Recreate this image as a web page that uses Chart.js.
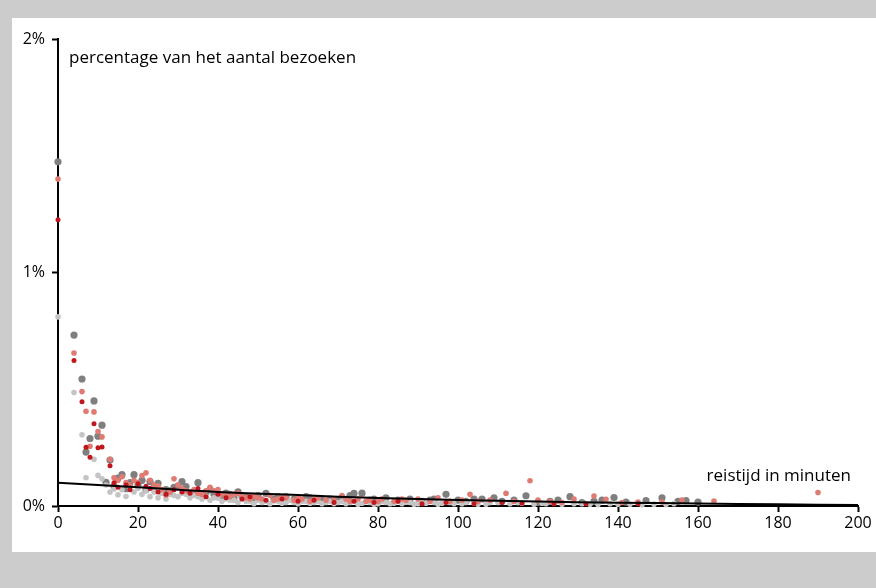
<!DOCTYPE html>
<html>
<head>
<meta charset="utf-8">
<script src="https://cdn.jsdelivr.net/npm/chart.js@4/dist/chart.umd.min.js"></script>
<style>
    html, body { margin: 0; padding: 0; background: #cccccc; }
    body { width: 876px; height: 588px; position: relative; overflow: hidden; }
    #panel { position: absolute; left: 12px; top: 18px; width: 864px; height: 534px; background: #ffffff; }
    #panel canvas { display: block; }
</style>
</head>
<body>
<div id="panel"><canvas id="chartReistijd" width="864" height="534"></canvas></div>
<script>
// Reistijd (minuten) tegen percentage van het aantal bezoeken

const xTicks = [0, 20, 40, 60, 80, 100, 120, 140, 160, 180, 200];
const yTicks = [0, 1, 2];

// Trendlijn
const trendX = [0, 20, 40, 60, 80, 100, 120, 140, 160, 180, 200];
const trendY = [0.100, 0.080, 0.060, 0.047, 0.034, 0.026, 0.019, 0.014, 0.011, 0.007, 0.004];

// Donkergrijze punten
const donkergrijs = [
    [0, 1.474], [4, 0.732], [6, 0.544], [7, 0.231], [8, 0.289], [9, 0.45], [10, 0.299], [11, 0.346],
    [12, 0.101], [13, 0.197], [14, 0.085], [15, 0.12], [16, 0.134], [17, 0.074], [18, 0.1], [19, 0.134],
    [20, 0.09], [21, 0.11], [22, 0.07], [23, 0.105], [24, 0.08], [25, 0.097], [26, 0.06], [27, 0.07],
    [28, 0.065], [29, 0.08], [30, 0.085], [31, 0.104], [32, 0.083], [33, 0.05], [34, 0.06], [35, 0.1],
    [36, 0.045], [37, 0.06], [38, 0.07], [39, 0.05], [40, 0.04], [41, 0.045], [42, 0.055], [43, 0.05],
    [44, 0.035], [45, 0.061], [46, 0.04], [47, 0.04], [49, 0.035], [50, 0.045], [52, 0.054], [54, 0.03],
    [55, 0.04], [57, 0.04], [59, 0.03], [60, 0.03], [62, 0.04], [63, 0.035], [65, 0.03], [66, 0.025],
    [68, 0.03], [70, 0.025], [71, 0.035], [73, 0.045], [74, 0.054], [76, 0.055], [78, 0.025], [79, 0.03],
    [81, 0.025], [82, 0.035], [85, 0.025], [87, 0.02], [88, 0.03], [91, 0.02], [93, 0.025], [94, 0.03],
    [97, 0.05], [100, 0.025], [102, 0.02], [104, 0.03], [106, 0.03], [109, 0.035], [111, 0.02], [114, 0.025],
    [117, 0.044], [120, 0.015], [123, 0.02], [125, 0.025], [128, 0.04], [131, 0.015], [134, 0.02], [136, 0.025],
    [139, 0.036], [142, 0.017], [147, 0.023], [151, 0.035], [155, 0.02], [157, 0.023], [160, 0.017],
];

// Lichtgrijze punten
const lichtgrijs = [
    [0, 0.81], [4, 0.486], [6, 0.305], [7, 0.121], [9, 0.2], [10, 0.131], [11, 0.117], [12, 0.09],
    [13, 0.06], [14, 0.073], [15, 0.048], [16, 0.07], [17, 0.041], [18, 0.08], [19, 0.06], [20, 0.075],
    [21, 0.05], [22, 0.065], [23, 0.04], [24, 0.06], [25, 0.035], [26, 0.055], [27, 0.03], [28, 0.05],
    [29, 0.045], [30, 0.04], [31, 0.055], [32, 0.05], [33, 0.035], [34, 0.045], [35, 0.04], [36, 0.03],
    [37, 0.04], [38, 0.025], [39, 0.035], [40, 0.035], [41, 0.02], [42, 0.03], [43, 0.025], [44, 0.025],
    [45, 0.015], [46, 0.03], [47, 0.02], [48, 0.02], [49, 0.01], [50, 0.025], [51, 0.015], [52, 0.02],
    [53, 0.01], [54, 0.022], [55, 0.02], [56, 0.012], [57, 0.015], [58, 0.025], [59, 0.015], [60, 0.01],
    [61, 0.02], [62, 0.02], [63, 0.012], [64, 0.015], [65, 0.02], [66, 0.01], [67, 0.015], [68, 0.02],
    [69, 0.01], [70, 0.015], [71, 0.02], [72, 0.01], [73, 0.015], [74, 0.02], [75, 0.008], [76, 0.012],
    [77, 0.018], [78, 0.015], [79, 0.008], [80, 0.01], [81, 0.018], [82, 0.015], [83, 0.01], [84, 0.012],
    [86, 0.01], [87, 0.016], [88, 0.015], [89, 0.008], [90, 0.01], [91, 0.015], [92, 0.012], [94, 0.015],
    [95, 0.008], [96, 0.012], [98, 0.015], [99, 0.01], [101, 0.01], [102, 0.015], [104, 0.012], [105, 0.008],
    [107, 0.008], [108, 0.014], [110, 0.015], [113, 0.01], [115, 0.014], [116, 0.012], [119, 0.008], [121, 0.012],
    [122, 0.01], [124, 0.012], [126, 0.008], [129, 0.01], [131, 0.01], [133, 0.008], [135, 0.006], [138, 0.01],
    [140, 0.008], [143, 0.007], [146, 0.005], [149, 0.008], [152, 0.006], [154, 0.01],
];

// Zalmkleurige punten
const zalm = [
    [0, 1.40], [4, 0.655], [6, 0.49], [7, 0.406], [8, 0.256], [9, 0.403], [10, 0.319], [11, 0.296],
    [13, 0.2], [14, 0.121], [15, 0.11], [16, 0.125], [17, 0.1], [18, 0.09], [19, 0.11], [20, 0.1],
    [21, 0.13], [22, 0.142], [23, 0.11], [24, 0.09], [25, 0.085], [26, 0.07], [27, 0.047], [28, 0.06],
    [29, 0.117], [30, 0.09], [31, 0.075], [32, 0.065], [33, 0.06], [34, 0.07], [35, 0.055], [36, 0.05],
    [37, 0.065], [38, 0.08], [39, 0.065], [40, 0.07], [41, 0.05], [42, 0.045], [43, 0.04], [44, 0.05],
    [45, 0.055], [46, 0.045], [47, 0.035], [48, 0.03], [49, 0.04], [50, 0.035], [51, 0.03], [53, 0.045],
    [54, 0.025], [55, 0.03], [56, 0.04], [57, 0.035], [59, 0.025], [60, 0.035], [61, 0.03], [63, 0.02],
    [64, 0.03], [65, 0.035], [67, 0.025], [69, 0.03], [71, 0.045], [72, 0.03], [73, 0.02], [75, 0.03],
    [77, 0.02], [78, 0.025], [80, 0.02], [81, 0.03], [84, 0.02], [86, 0.03], [87, 0.025], [90, 0.03],
    [93, 0.02], [95, 0.035], [98, 0.02], [101, 0.025], [103, 0.05], [105, 0.02], [108, 0.025], [112, 0.054],
    [114, 0.02], [118, 0.108], [120, 0.025], [123, 0.02], [126, 0.015], [129, 0.03], [134, 0.043], [137, 0.029],
    [141, 0.015], [145, 0.017], [151, 0.017], [156, 0.026], [164, 0.021], [190, 0.058],
];

// Rode punten
const rood = [
    [0, 1.226], [4, 0.623], [6, 0.446], [7, 0.252], [8, 0.209], [9, 0.352], [10, 0.249], [11, 0.253],
    [13, 0.172], [14, 0.1], [15, 0.08], [17, 0.09], [18, 0.07], [20, 0.095], [22, 0.085], [23, 0.075],
    [25, 0.06], [27, 0.05], [29, 0.07], [31, 0.06], [33, 0.055], [35, 0.075], [37, 0.04], [40, 0.05],
    [42, 0.035], [46, 0.03], [48, 0.04], [52, 0.025], [56, 0.03], [60, 0.02], [64, 0.025], [69, 0.015],
    [74, 0.02], [79, 0.015], [85, 0.02], [91, 0.01], [97, 0.015], [104, 0.01], [111, 0.015], [116, 0.012],
    [124, 0.01], [132, 0.01], [145, 0.01],
];

const FONT = "'Open Sans', 'Noto Sans', sans-serif";

function toPoints(pairs) {
    return pairs.map(p => ({ x: p[0], y: p[1] }));
}

function puntenSet(pairs, color, radius, order) {
    return {
        data: toPoints(pairs),
        backgroundColor: color,
        borderWidth: 0,
        pointRadius: radius,
        pointHoverRadius: radius,
        order: order,
    };
}

// Teksten in het grafiekvlak
const labelPlugin = {
    id: 'asLabels',
    afterDraw: function(chart) {
        const ctx = chart.ctx;
        const area = chart.chartArea;
        ctx.save();
        ctx.fillStyle = '#000000';
        ctx.font = '17px ' + FONT;
        ctx.textBaseline = 'middle';
        ctx.textAlign = 'left';
        ctx.fillText('percentage van het aantal bezoeken', area.left + 11, area.top + 19);
        ctx.textAlign = 'right';
        ctx.fillText('reistijd in minuten', area.right - 7, area.bottom - 30);
        ctx.restore();
    },
};

new Chart(document.getElementById('chartReistijd'), {
    type: 'scatter',
    data: {
        datasets: [
            {
                type: 'line',
                data: trendX.map((x, i) => ({ x: x, y: trendY[i] })),
                borderColor: '#000000',
                borderWidth: 2,
                pointRadius: 0,
                fill: false,
                tension: 0.4,
                order: 0,
            },
            puntenSet(rood, '#c0171f', 2.5, 1),
            puntenSet(zalm, '#e07b73', 2.8, 2),
            puntenSet(lichtgrijs, '#c4c4c4', 2.8, 3),
            puntenSet(donkergrijs, '#7f7f7f', 3.6, 4),
        ],
    },
    options: {
        responsive: false,
        animation: false,
        clip: false,
        layout: { padding: { top: 21, right: 18, left: 0, bottom: 0 } },
        plugins: {
            legend: { display: false },
            tooltip: { enabled: false },
        },
        scales: {
            x: {
                type: 'linear',
                min: 0,
                max: 200,
                afterBuildTicks: function(scale) {
                    scale.ticks = xTicks.map(v => ({ value: v }));
                },
                afterFit: function(scale) { scale.height = 46; },
                border: { display: true, color: '#000000', width: 2 },
                grid: {
                    display: true,
                    drawOnChartArea: false,
                    drawTicks: true,
                    tickLength: 6,
                    tickColor: '#000000',
                    tickWidth: 2,
                },
                ticks: {
                    color: '#000000',
                    font: { family: FONT, size: 16 },
                    padding: 2,
                    maxRotation: 0,
                },
            },
            y: {
                type: 'linear',
                min: 0,
                max: 2,
                afterBuildTicks: function(scale) {
                    scale.ticks = yTicks.map(v => ({ value: v }));
                },
                afterFit: function(scale) { scale.width = 46; },
                border: { display: true, color: '#000000', width: 2 },
                grid: {
                    display: true,
                    drawOnChartArea: false,
                    drawTicks: true,
                    tickLength: 6,
                    tickColor: '#000000',
                    tickWidth: 2,
                },
                ticks: {
                    color: '#000000',
                    font: { family: FONT, size: 16 },
                    padding: 7,
                    callback: function(value) { return value + '%'; },
                },
            },
        },
    },
    plugins: [labelPlugin],
});
</script>
</body>
</html>
